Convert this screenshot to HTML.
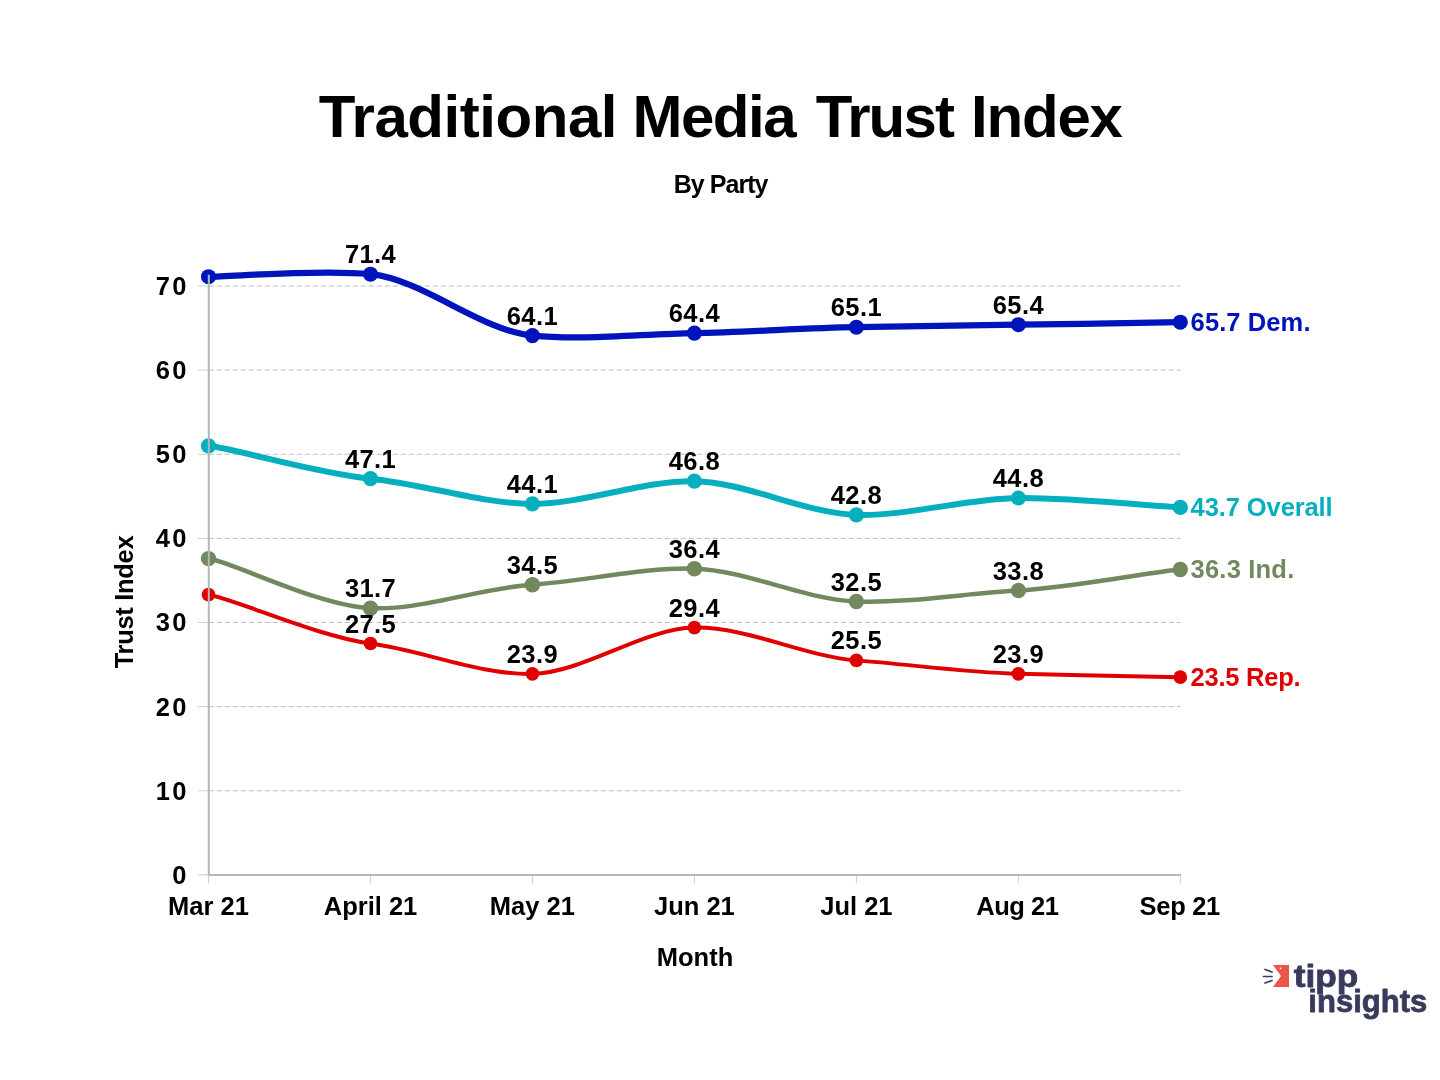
<!DOCTYPE html>
<html lang="en"><head><meta charset="utf-8"><title>Traditional Media Trust Index</title>
<style>
html,body{margin:0;padding:0;background:#fff;}
body{width:1440px;height:1080px;overflow:hidden;position:relative;font-family:"Liberation Sans",sans-serif;}
svg{position:absolute;left:0;top:0;}
text{font-family:"Liberation Sans",sans-serif;font-weight:bold;fill:#000;}
.ti{font-size:60px;}
.st{font-size:25px;letter-spacing:-0.95px;}
.tk{font-size:25.5px;letter-spacing:2.2px;}
.xt{font-size:25.5px;letter-spacing:0px;}
.vl{font-size:25.5px;letter-spacing:0.4px;}
.el{font-size:25.5px;letter-spacing:0.3px;}
.at{font-size:25.5px;}
.lg{font-size:32px;fill:#383b5b;stroke:#383b5b;stroke-width:0.8px;stroke-linejoin:round;}
</style></head><body>
<svg width="1440" height="1080" viewBox="0 0 1440 1080">
<text class="ti" y="136.5"><tspan x="318.7" style="letter-spacing:-0.46px">Traditional </tspan><tspan x="632.4" style="letter-spacing:-1.47px">Media </tspan><tspan x="815.7" style="letter-spacing:-1.88px">Trust </tspan><tspan x="971" style="letter-spacing:-1.18px">Index</tspan></text>
<text class="st" x="720.6" y="192.8" text-anchor="middle">By Party</text>
<line x1="198" x2="208" y1="790.77" y2="790.77" stroke="#cdcdd2" stroke-width="1"/>
<line x1="208.7" x2="1180.5" y1="790.77" y2="790.77" stroke="#bebec4" stroke-width="1" stroke-dasharray="5.2,2.8"/>
<line x1="198" x2="208" y1="706.64" y2="706.64" stroke="#cdcdd2" stroke-width="1"/>
<line x1="208.7" x2="1180.5" y1="706.64" y2="706.64" stroke="#bebec4" stroke-width="1" stroke-dasharray="5.2,2.8"/>
<line x1="198" x2="208" y1="622.51" y2="622.51" stroke="#cdcdd2" stroke-width="1"/>
<line x1="208.7" x2="1180.5" y1="622.51" y2="622.51" stroke="#bebec4" stroke-width="1" stroke-dasharray="5.2,2.8"/>
<line x1="198" x2="208" y1="538.38" y2="538.38" stroke="#cdcdd2" stroke-width="1"/>
<line x1="208.7" x2="1180.5" y1="538.38" y2="538.38" stroke="#bebec4" stroke-width="1" stroke-dasharray="5.2,2.8"/>
<line x1="198" x2="208" y1="454.25" y2="454.25" stroke="#cdcdd2" stroke-width="1"/>
<line x1="208.7" x2="1180.5" y1="454.25" y2="454.25" stroke="#bebec4" stroke-width="1" stroke-dasharray="5.2,2.8"/>
<line x1="198" x2="208" y1="370.12" y2="370.12" stroke="#cdcdd2" stroke-width="1"/>
<line x1="208.7" x2="1180.5" y1="370.12" y2="370.12" stroke="#bebec4" stroke-width="1" stroke-dasharray="5.2,2.8"/>
<line x1="198" x2="208" y1="285.99" y2="285.99" stroke="#cdcdd2" stroke-width="1"/>
<line x1="208.7" x2="1180.5" y1="285.99" y2="285.99" stroke="#bebec4" stroke-width="1" stroke-dasharray="5.2,2.8"/>
<line x1="198" x2="208" y1="874.90" y2="874.90" stroke="#cdcdd2" stroke-width="1"/>
<line x1="208.5" x2="208.5" y1="874.9" y2="883.4" stroke="#cdcdd2" stroke-width="1"/>
<line x1="370.5" x2="370.5" y1="874.9" y2="883.4" stroke="#cdcdd2" stroke-width="1"/>
<line x1="532.4" x2="532.4" y1="874.9" y2="883.4" stroke="#cdcdd2" stroke-width="1"/>
<line x1="694.4" x2="694.4" y1="874.9" y2="883.4" stroke="#cdcdd2" stroke-width="1"/>
<line x1="856.4" x2="856.4" y1="874.9" y2="883.4" stroke="#cdcdd2" stroke-width="1"/>
<line x1="1018.4" x2="1018.4" y1="874.9" y2="883.4" stroke="#cdcdd2" stroke-width="1"/>
<line x1="1180.3" x2="1180.3" y1="874.9" y2="883.4" stroke="#cdcdd2" stroke-width="1"/>
<text class="tk" x="188.6" y="883.8" text-anchor="end">0</text>
<text class="tk" x="188.6" y="799.7" text-anchor="end">10</text>
<text class="tk" x="188.6" y="715.5" text-anchor="end">20</text>
<text class="tk" x="188.6" y="631.4" text-anchor="end">30</text>
<text class="tk" x="188.6" y="547.3" text-anchor="end">40</text>
<text class="tk" x="188.6" y="463.1" text-anchor="end">50</text>
<text class="tk" x="188.6" y="379.0" text-anchor="end">60</text>
<text class="tk" x="188.6" y="294.9" text-anchor="end">70</text>
<text class="xt" x="208.5" y="915" text-anchor="middle" style="letter-spacing:0px">Mar 21</text>
<text class="xt" x="370.5" y="915" text-anchor="middle" style="letter-spacing:0px">April 21</text>
<text class="xt" x="532.4" y="915" text-anchor="middle" style="letter-spacing:0px">May 21</text>
<text class="xt" x="694.4" y="915" text-anchor="middle" style="letter-spacing:0px">Jun 21</text>
<text class="xt" x="856.4" y="915" text-anchor="middle" style="letter-spacing:0px">Jul 21</text>
<text class="xt" x="1017.4" y="915" text-anchor="middle" style="letter-spacing:-0.45px">Aug 21</text>
<text class="xt" x="1179.8" y="915" text-anchor="middle" style="letter-spacing:-0.3px">Sep 21</text>
<path d="M208.50,594.75C234.42,598.89,318.64,636.82,370.47,643.54C422.30,650.26,480.61,675.19,532.44,673.83C584.27,672.47,642.58,628.70,694.41,627.56C746.24,626.41,804.55,656.44,856.38,660.37C908.21,664.30,966.52,672.40,1018.35,673.83C1070.18,675.26,1154.40,676.91,1180.32,677.19" fill="none" stroke="#e00000" stroke-width="4.0" stroke-linejoin="round" stroke-linecap="round"/>
<circle cx="208.5" cy="594.7" r="6.85" fill="#e00000"/>
<circle cx="370.5" cy="643.5" r="6.85" fill="#e00000"/>
<circle cx="532.4" cy="673.8" r="6.85" fill="#e00000"/>
<circle cx="694.4" cy="627.6" r="6.85" fill="#e00000"/>
<circle cx="856.4" cy="660.4" r="6.85" fill="#e00000"/>
<circle cx="1018.4" cy="673.8" r="6.85" fill="#e00000"/>
<circle cx="1180.3" cy="677.2" r="6.85" fill="#e00000"/>
<path d="M208.50,558.57C234.42,562.79,318.64,605.99,370.47,608.21C422.30,610.42,480.61,588.01,532.44,584.65C584.27,581.29,642.58,567.24,694.41,568.67C746.24,570.10,804.55,599.62,856.38,601.48C908.21,603.34,966.52,593.26,1018.35,590.54C1070.18,587.82,1154.40,571.30,1180.32,569.51" fill="none" stroke="#72885d" stroke-width="4.5" stroke-linejoin="round" stroke-linecap="round"/>
<circle cx="208.5" cy="558.6" r="7.7" fill="#72885d"/>
<circle cx="370.5" cy="608.2" r="7.7" fill="#72885d"/>
<circle cx="532.4" cy="584.7" r="7.7" fill="#72885d"/>
<circle cx="694.4" cy="568.7" r="7.7" fill="#72885d"/>
<circle cx="856.4" cy="601.5" r="7.7" fill="#72885d"/>
<circle cx="1018.4" cy="590.5" r="7.7" fill="#72885d"/>
<circle cx="1180.3" cy="569.5" r="7.7" fill="#72885d"/>
<path d="M208.50,445.84C234.42,448.63,318.64,473.71,370.47,478.65C422.30,483.58,480.61,503.67,532.44,503.89C584.27,504.10,642.58,480.24,694.41,481.17C746.24,482.10,804.55,513.39,856.38,514.82C908.21,516.25,966.52,498.64,1018.35,498.00C1070.18,497.35,1154.40,506.47,1180.32,507.25" fill="none" stroke="#05afbe" stroke-width="6.0" stroke-linejoin="round" stroke-linecap="round"/>
<circle cx="208.5" cy="445.8" r="7.6" fill="#05afbe"/>
<circle cx="370.5" cy="478.6" r="7.6" fill="#05afbe"/>
<circle cx="532.4" cy="503.9" r="7.6" fill="#05afbe"/>
<circle cx="694.4" cy="481.2" r="7.6" fill="#05afbe"/>
<circle cx="856.4" cy="514.8" r="7.6" fill="#05afbe"/>
<circle cx="1018.4" cy="498.0" r="7.6" fill="#05afbe"/>
<circle cx="1180.3" cy="507.3" r="7.6" fill="#05afbe"/>
<path d="M208.50,276.74C234.42,276.52,318.64,269.21,370.47,274.21C422.30,279.22,480.61,330.62,532.44,335.63C584.27,340.63,642.58,333.82,694.41,333.10C746.24,332.39,804.55,327.93,856.38,327.21C908.21,326.50,966.52,325.12,1018.35,324.69C1070.18,324.26,1154.40,322.38,1180.32,322.17" fill="none" stroke="#0014bc" stroke-width="6.2" stroke-linejoin="round" stroke-linecap="round"/>
<circle cx="208.5" cy="276.7" r="7.55" fill="#0014bc"/>
<circle cx="370.5" cy="274.2" r="7.55" fill="#0014bc"/>
<circle cx="532.4" cy="335.6" r="7.55" fill="#0014bc"/>
<circle cx="694.4" cy="333.1" r="7.55" fill="#0014bc"/>
<circle cx="856.4" cy="327.2" r="7.55" fill="#0014bc"/>
<circle cx="1018.4" cy="324.7" r="7.55" fill="#0014bc"/>
<circle cx="1180.3" cy="322.2" r="7.55" fill="#0014bc"/>
<line x1="208.8" x2="208.8" y1="274.7" y2="875.9" stroke="#b6b6bc" stroke-width="2"/>
<line x1="208" x2="1181" y1="874.9" y2="874.9" stroke="#b6b6bc" stroke-width="2"/>
<text class="vl" x="370.5" y="632.5" text-anchor="middle">27.5</text>
<text class="vl" x="532.4" y="662.8" text-anchor="middle">23.9</text>
<text class="vl" x="694.4" y="616.6" text-anchor="middle">29.4</text>
<text class="vl" x="856.4" y="649.4" text-anchor="middle">25.5</text>
<text class="vl" x="1018.4" y="662.8" text-anchor="middle">23.9</text>
<text class="el" x="1190.6" y="686.1" style="fill:#e00000;letter-spacing:-0.25px">23.5 Rep.</text>
<text class="vl" x="370.5" y="597.2" text-anchor="middle">31.7</text>
<text class="vl" x="532.4" y="573.7" text-anchor="middle">34.5</text>
<text class="vl" x="694.4" y="557.7" text-anchor="middle">36.4</text>
<text class="vl" x="856.4" y="590.5" text-anchor="middle">32.5</text>
<text class="vl" x="1018.4" y="579.5" text-anchor="middle">33.8</text>
<text class="el" x="1190.6" y="578.4" style="fill:#72885d;letter-spacing:0.2px">36.3 Ind.</text>
<text class="vl" x="370.5" y="467.6" text-anchor="middle">47.1</text>
<text class="vl" x="532.4" y="492.9" text-anchor="middle">44.1</text>
<text class="vl" x="694.4" y="470.2" text-anchor="middle">46.8</text>
<text class="vl" x="856.4" y="503.8" text-anchor="middle">42.8</text>
<text class="vl" x="1018.4" y="487.0" text-anchor="middle">44.8</text>
<text class="el" x="1190.6" y="516.2" style="fill:#05afbe;letter-spacing:-0.1px">43.7 Overall</text>
<text class="vl" x="370.5" y="263.2" text-anchor="middle">71.4</text>
<text class="vl" x="532.4" y="324.6" text-anchor="middle">64.1</text>
<text class="vl" x="694.4" y="322.1" text-anchor="middle">64.4</text>
<text class="vl" x="856.4" y="316.2" text-anchor="middle">65.1</text>
<text class="vl" x="1018.4" y="313.7" text-anchor="middle">65.4</text>
<text class="el" x="1190.6" y="331.1" style="fill:#0014bc;letter-spacing:0.1px">65.7 Dem.</text>
<text class="at" x="695" y="965.5" text-anchor="middle">Month</text>
<text class="at" transform="translate(133.2,602) rotate(-90)" text-anchor="middle" style="letter-spacing:-0.3px">Trust Index</text>
<g id="logo">
<path d="M1273,965 L1289,965 L1289,987 L1273,987 L1281,976 Z" fill="#e9574c"/>
<circle cx="1280.6" cy="968.4" r="0.8" fill="#fff"/>
<g stroke="#383b5b" stroke-width="1.7" stroke-linecap="round"><line x1="1265" y1="969.5" x2="1272" y2="972"/><line x1="1263.5" y1="976.5" x2="1272" y2="976.5"/><line x1="1265" y1="983" x2="1272" y2="980.5"/></g>
<text class="lg" x="1293.7" y="986.5" textLength="64.6" lengthAdjust="spacingAndGlyphs">tipp</text>
<text class="lg" x="1308.3" y="1012.3" textLength="119" lengthAdjust="spacingAndGlyphs" style="font-size:32px">insights</text>
</g>
</svg>
</body></html>
